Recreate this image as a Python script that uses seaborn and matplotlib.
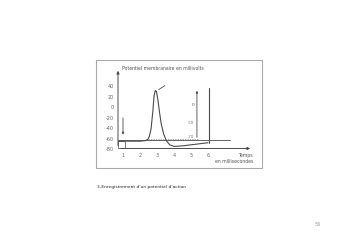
import matplotlib
matplotlib.use("Agg")
import matplotlib.pyplot as plt
import seaborn as sns
import pandas as pd
from matplotlib.patches import Rectangle

sns.set_style("white")
plt.rcParams['font.family'] = ['DejaVu Sans']

# ---- data ----
time_ms = [0.75, 1.0, 1.5, 2.0, 2.3, 2.45, 2.55, 2.65, 2.75, 2.83, 2.9, 2.97, 3.05, 3.15, 3.25, 3.4, 3.55, 3.75, 4.0, 4.5, 5.0, 5.5, 6.0]
potential_mv = [-65, -65, -65, -65, -64, -62, -56, -42, -10, 22, 32, 30, 15, -10, -32, -52, -64, -72, -75, -74, -72, -70, -68]
spike2_time = [6.05, 6.05]
spike2_mv = [-68, 37]
y_ticks = [40, 20, 0, -20, -40, -60, -80]
y_tick_labels = ["40", "20", "0", "-20", "-40", "-60", "-80"]
x_ticks = [1, 2, 3, 4, 5, 6]
y_label = "Potentiel membranaire en millivolts"
x_label = "Temps\nen millisecondes"
caption = "3-Enregistrement d'un potentiel d'action"
page = "56"

W, H = 351, 248
fig = plt.figure(figsize=(W / 100, H / 100), dpi=100)
fig.patch.set_facecolor("white")

# frame of the scanned figure
frame = fig.add_axes([0, 0, 1, 1], facecolor="none")
frame.set_xlim(0, W); frame.set_ylim(H, 0); frame.axis("off")
frame.add_patch(Rectangle((96, 60), 166, 108, fill=False, edgecolor="#aaaaaa", lw=0.8))
frame.text(97, 187, caption, fontsize=3.2, color="#222222", va="center", ha="left")
frame.text(318, 224, page, fontsize=3.5, color="#999999", va="center", ha="center")

# main axes
x0, x1 = 0.706, 8.65
y0, y1 = -79, 75
ax = fig.add_axes([118 / W, 1 - 149 / H, (253 - 118) / W, (149 - 68) / H], facecolor="none")
ax.set_xlim(x0, x1); ax.set_ylim(y0, y1)
for s in ax.spines.values():
    s.set_visible(False)

line_c = "#4a4a4a"
df = pd.DataFrame({"t": time_ms, "v": potential_mv})
sns.lineplot(data=df, x="t", y="v", ax=ax, color=line_c, lw=0.8, sort=False, estimator=None)
df2 = pd.DataFrame({"t": spike2_time, "v": spike2_mv})
sns.lineplot(data=df2, x="t", y="v", ax=ax, color=line_c, lw=0.8, sort=False, estimator=None)

# axis arrows
ax.annotate("", xy=(x0, y1), xytext=(x0, y0), xycoords="data",
            arrowprops=dict(arrowstyle="-|>", color=line_c, lw=0.7, mutation_scale=4), annotation_clip=False)
ax.annotate("", xy=(x1, y0), xytext=(x0, y0),
            arrowprops=dict(arrowstyle="-|>", color=line_c, lw=0.7, mutation_scale=4), annotation_clip=False)
# resting level line and dashed threshold
ax.plot([x0, 7.3], [-63, -63], color=line_c, lw=0.6)
ax.plot([2.5, 5.4], [-61, -61], color="#888888", lw=0.5, ls=(0, (2, 1.5)))
# stimulus arrow at 1 ms
ax.annotate("", xy=(1.0, -58), xytext=(1.0, -15),
            arrowprops=dict(arrowstyle="-|>", color=line_c, lw=0.6, mutation_scale=3))
ax.add_patch(Rectangle((0.72, -78), 0.38, 14, fill=False, edgecolor=line_c, lw=0.5))
# arrow to peak
ax.annotate("", xy=(2.97, 31), xytext=(3.6, 44),
            arrowprops=dict(arrowstyle="-", color=line_c, lw=0.6))
# second small axis
ax.annotate("", xy=(5.35, 37), xytext=(5.35, -63),
            arrowprops=dict(arrowstyle="-|>", color=line_c, lw=0.6, mutation_scale=3))
ax.text(5.18, 5, "0", fontsize=3.2, color="#555555", ha="right", va="center")
ax.text(5.18, -30, "-50", fontsize=2.8, color="#777777", ha="right", va="center")
ax.text(5.18, -57, "-70", fontsize=2.8, color="#777777", ha="right", va="center")

# ticks
ax.set_xticks(x_ticks)
ax.set_xticklabels([str(v) for v in x_ticks])
ax.set_yticks(y_ticks)
ax.set_yticklabels(y_tick_labels)
ax.tick_params(axis="both", labelsize=3.5, colors="#666666", length=1.5, width=0.5, pad=1.5)
ax.set_xlabel(""); ax.set_ylabel("")

ax.text(x0 + 0.25, y1, y_label, fontsize=3.3, color="#555555", ha="left", va="center")
ax.text(x1, -88, x_label, fontsize=3.3, color="#555555", ha="right", va="top", multialignment="right")

fig.savefig("out.png", dpi=100, facecolor="white")
